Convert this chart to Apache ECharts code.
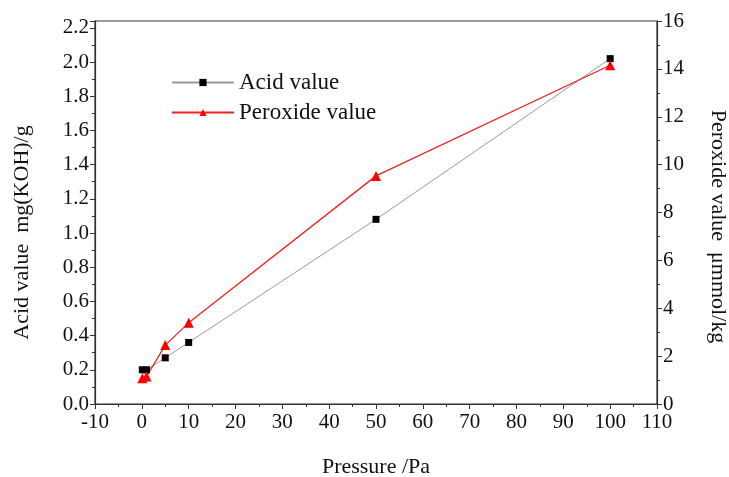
<!DOCTYPE html>
<html>
<head>
<meta charset="utf-8">
<script src="https://cdn.jsdelivr.net/npm/echarts@6/dist/echarts.min.js"></script>
<style>
  html, body { margin: 0; padding: 0; background: #fff; }
  #chart { width: 729px; height: 477px; }
</style>
</head>
<body>
<div id="chart"></div>
<script>
// pressure (Pa)
const pressure = [0.1, 1, 5, 10, 50, 100]
// acid value mg(KOH)/g
const acidValues = [0.20, 0.20, 0.27, 0.36, 1.08, 2.02]
// peroxide value μmmol/kg
const peroxideValues = [1.08, 1.15, 2.46, 3.39, 9.53, 14.15]

const font = 'Liberation Serif'
const axisColor = '#333'

const myChart = echarts.init(document.getElementById('chart'))

const option = {
  animation: false,
  grid: {
    left: 95,
    right: 72,
    top: 21,
    bottom: 73,
    outerBoundsMode: 'none',
    show: true,
    borderColor: axisColor,
    borderWidth: 1.2
  },
  legend: {
    orient: 'vertical',
    left: 166,
    top: 66,
    itemWidth: 62,
    itemHeight: 9,
    itemGap: 7,
    textStyle: { fontFamily: font, fontSize: 23, color: '#111' },
    data: ['Acid value', 'Peroxide value']
  },
  xAxis: {
    type: 'value',
    min: -10,
    max: 110,
    interval: 10,
    name: 'Pressure /Pa',
    nameLocation: 'middle',
    nameGap: 52,
    nameTextStyle: { fontFamily: font, fontSize: 22, color: '#111' },
    axisLine: { lineStyle: { color: axisColor, width: 1.2 } },
    axisTick: { length: 5, lineStyle: { color: axisColor } },
    minorTick: { show: true, splitNumber: 2, length: 3, lineStyle: { color: axisColor } },
    axisLabel: { fontFamily: font, fontSize: 21, color: '#111', margin: 8 },
    splitLine: { show: false }
  },
  yAxis: [
    {
      type: 'value',
      min: 0,
      max: 2.24,
      interval: 0.2,
      name: 'Acid value  mg(KOH)/g',
      nameLocation: 'middle',
      nameGap: 62,
      // shift the title a bit lower, like the original
      nameTextStyle: { fontFamily: font, fontSize: 22, color: '#111', padding: [0, 40, 0, 0] },
      axisLine: { show: true, onZero: false, lineStyle: { color: axisColor, width: 1.2 } },
      axisTick: { length: 5, lineStyle: { color: axisColor } },
      minorTick: { show: true, splitNumber: 2, length: 3, lineStyle: { color: axisColor } },
      axisLabel: {
        fontFamily: font, fontSize: 21, color: '#111', margin: 6,
        formatter: v => v > 2.21 ? '' : v.toFixed(1)
      },
      splitLine: { show: false }
    },
    {
      type: 'value',
      min: 0,
      max: 16,
      interval: 2,
      position: 'right',
      name: 'Peroxide value  μmmol/kg',
      nameLocation: 'middle',
      nameRotate: -90,
      nameGap: 50,
      nameTextStyle: { fontFamily: font, fontSize: 22, color: '#111', padding: [0, 0, 0, 28] },
      axisLine: { show: true, onZero: false, lineStyle: { color: axisColor, width: 1.2 } },
      axisTick: { length: 5, lineStyle: { color: axisColor } },
      minorTick: { show: true, splitNumber: 2, length: 3, lineStyle: { color: axisColor } },
      axisLabel: { fontFamily: font, fontSize: 21, color: '#111', margin: 6 },
      splitLine: { show: false }
    }
  ],
  series: [
    {
      name: 'Acid value',
      type: 'line',
      yAxisIndex: 0,
      data: pressure.map((p, i) => [p, acidValues[i]]),
      symbol: 'rect',
      symbolSize: 7,
      itemStyle: { color: '#000' },
      lineStyle: { color: '#999', width: 1 }
    },
    {
      name: 'Peroxide value',
      type: 'line',
      yAxisIndex: 1,
      data: pressure.map((p, i) => [p, peroxideValues[i]]),
      symbol: 'triangle',
      symbolSize: 10,
      itemStyle: { color: '#ff0000' },
      lineStyle: { color: '#ee2222', width: 1.3 }
    }
  ]
}
myChart.setOption(option)
</script>
</body>
</html>
